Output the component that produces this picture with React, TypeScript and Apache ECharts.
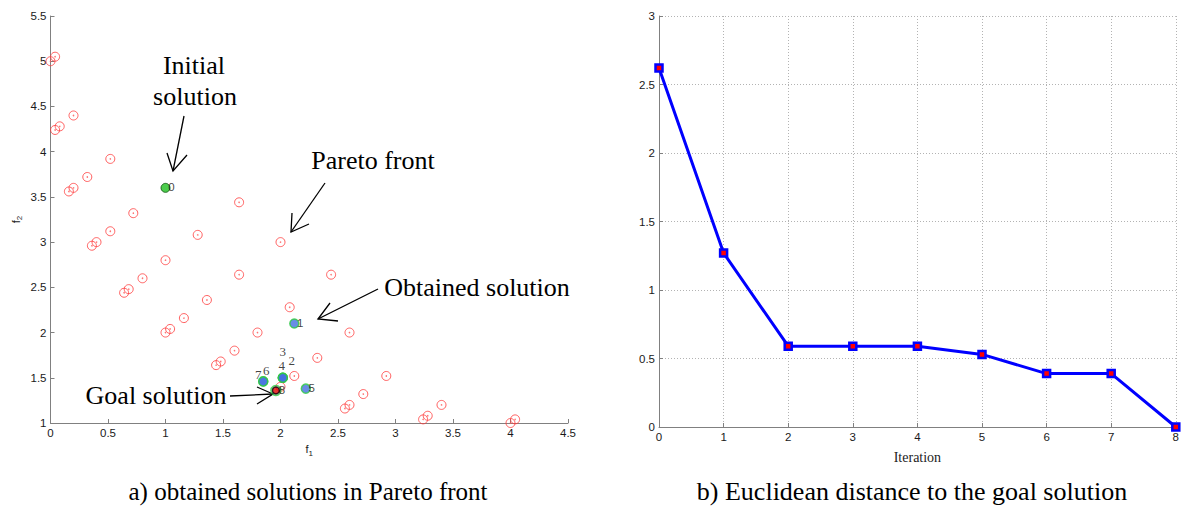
import React, { useEffect, useRef } from "react";
import * as echarts from "echarts";

// ---- Data ----
const paretoF1 = [0, 0.04, 0.2, 0.04, 0.08, 0.52, 0.32, 0.16, 0.2, 1.64, 0.72, 0.52, 1.28, 0.36, 0.4, 2.0, 1.0, 0.8, 0.64, 0.68, 1.64, 1.36, 2.08, 1.16, 1.0, 1.04, 1.8, 1.6, 1.44, 1.48, 2.12, 2.0, 2.44, 2.6, 2.32, 2.92, 2.72, 2.56, 2.6, 3.4, 3.24, 3.28, 4.0, 4.04];
const paretoF2 = [5.0, 5.05, 4.4, 4.24, 4.28, 3.92, 3.72, 3.56, 3.6, 3.44, 3.32, 3.12, 3.08, 2.96, 3.0, 3.0, 2.8, 2.6, 2.44, 2.48, 2.64, 2.36, 2.28, 2.16, 2.0, 2.04, 2.0, 1.8, 1.64, 1.68, 1.52, 1.4, 2.64, 2.0, 1.72, 1.52, 1.32, 1.16, 1.2, 1.2, 1.04, 1.08, 1.0, 1.04];

const iterations = [0, 1, 2, 3, 4, 5, 6, 7, 8];
const solutionF1 = [1.0, 2.12, 2.02, 2.02, 2.02, 2.22, 1.85, 1.85, 1.96];
const solutionF2 = [3.6, 2.1, 1.5, 1.5, 1.5, 1.38, 1.46, 1.46, 1.36];
const goalF1 = [1.96];
const goalF2 = [1.36];

const distances = [2.62, 1.27, 0.59, 0.59, 0.59, 0.53, 0.39, 0.39, 0.0];

const SERIF = "'Liberation Serif', 'Times New Roman', serif";
const SANS = "'Liberation Sans', Arial, sans-serif";
const AXIS_COLOR = "#808080";

// label placement for each iteration point (offsets relative to the point)
const labelStyle: Record<number, { offset: number[]; font: string; size: number }> = {
  0: { offset: [6, -1], font: SANS, size: 11.5 },
  1: { offset: [6, -1], font: SANS, size: 11.5 },
  2: { offset: [9, -17], font: SERIF, size: 13 },
  3: { offset: [0, -26], font: SERIF, size: 13 },
  4: { offset: [-1, -12], font: SERIF, size: 13 },
  5: { offset: [6, -1], font: SANS, size: 11.5 },
  6: { offset: [3, -11], font: SERIF, size: 13 },
  7: { offset: [-5, -7], font: SERIF, size: 13 },
  8: { offset: [6, 0], font: SANS, size: 11.5 },
};

export default function App() {
  const ref = useRef<HTMLDivElement>(null);

  useEffect(() => {
    if (!ref.current) return;
    const chart = echarts.init(ref.current, null, { renderer: "svg" });

    const axisCommon = {
      axisLine: { show: true, lineStyle: { color: AXIS_COLOR, width: 1 } },
      axisTick: { show: true, inside: true, length: 4, lineStyle: { color: AXIS_COLOR } },
      axisLabel: { color: "#1a1a1a", fontFamily: SANS, fontSize: 11.5, margin: 4 },
    };

    const paretoData = paretoF1.map((x, i) => [x, paretoF2[i]]);
    const solutionData = iterations.map((it, i) => {
      const ls = labelStyle[it];
      let itemStyle: any = undefined;
      let symbolSize = 9;
      if (it === 0) itemStyle = { color: "#1fbf1f", borderColor: "#0b4d0b", borderWidth: 1 };
      if (it === 8) {
        itemStyle = { color: "rgba(0,0,0,0)", borderColor: "#2ecc40", borderWidth: 1.5 };
        symbolSize = 10;
      }
      return {
        value: [solutionF1[i], solutionF2[i]],
        name: String(it),
        symbolSize,
        itemStyle,
        label: {
          show: true,
          position: "inside",
          offset: ls.offset,
          formatter: String(it),
          fontFamily: ls.font,
          fontSize: ls.size,
          lineHeight: ls.size,
          color: "#111",
        },
      };
    });

    const option: any = {
      animation: false,
      backgroundColor: "#ffffff",
      grid: [
        { left: 50.5, top: 16, width: 517.5, height: 407, containLabel: false },
        { left: 659, top: 16, width: 520, height: 411, containLabel: false },
      ],
      xAxis: [
        {
          gridIndex: 0,
          type: "value",
          min: 0,
          max: 4.5,
          interval: 0.5,
          splitLine: { show: false },
          ...axisCommon,
          name: "{a|f}{s|1}",
          nameLocation: "middle",
          nameGap: 18,
          nameTextStyle: {
            rich: {
              a: { fontFamily: SANS, fontSize: 11, color: "#1a1a1a" },
              s: { fontFamily: SANS, fontSize: 8, color: "#1a1a1a", padding: [8, 0, 0, 0] },
            },
          },
        },
        {
          gridIndex: 1,
          type: "value",
          min: 0,
          max: 8,
          interval: 1,
          ...axisCommon,
          splitLine: { show: true, lineStyle: { color: "#b3b3b3", type: [1, 2], width: 1 } },
          name: "Iteration",
          nameLocation: "middle",
          nameGap: 23,
          nameTextStyle: { fontFamily: SERIF, fontSize: 14, color: "#222" },
        },
      ],
      yAxis: [
        {
          gridIndex: 0,
          type: "value",
          min: 1,
          max: 5.5,
          interval: 0.5,
          splitLine: { show: false },
          ...axisCommon,
          name: "{a|f}{s|2}",
          nameLocation: "middle",
          nameGap: 27,
          nameRotate: 90,
          nameTextStyle: {
            rich: {
              a: { fontFamily: SANS, fontSize: 11, color: "#1a1a1a" },
              s: { fontFamily: SANS, fontSize: 8, color: "#1a1a1a", padding: [8, 0, 0, 0] },
            },
          },
        },
        {
          gridIndex: 1,
          type: "value",
          min: 0,
          max: 3,
          interval: 0.5,
          ...axisCommon,
          splitLine: { show: true, lineStyle: { color: "#b3b3b3", type: [1, 2], width: 1 } },
        },
      ],
      series: [
        {
          name: "Pareto front",
          type: "scatter",
          xAxisIndex: 0,
          yAxisIndex: 0,
          data: paretoData,
          symbol: "circle",
          symbolSize: 9,
          itemStyle: { color: "rgba(255,255,255,0)", borderColor: "#ff3b3b", borderWidth: 1 },
          z: 2,
        },
        {
          name: "Pareto front centre",
          type: "scatter",
          xAxisIndex: 0,
          yAxisIndex: 0,
          data: paretoData,
          symbol: "circle",
          symbolSize: 1.6,
          itemStyle: { color: "#ff5050" },
          z: 2,
        },
        {
          name: "Obtained solutions",
          type: "scatter",
          xAxisIndex: 0,
          yAxisIndex: 0,
          data: solutionData,
          symbol: "circle",
          itemStyle: { color: "#4470e0", borderColor: "#2ecc40", borderWidth: 1.5 },
          z: 3,
        },
        {
          name: "Goal",
          type: "scatter",
          xAxisIndex: 0,
          yAxisIndex: 0,
          data: goalF1.map((x, i) => [x, goalF2[i]]),
          symbol: "circle",
          symbolSize: 7,
          itemStyle: { color: "#e00000", borderColor: "#000000", borderWidth: 1.5 },
          z: 4,
        },
        {
          name: "Distance",
          type: "line",
          xAxisIndex: 1,
          yAxisIndex: 1,
          data: iterations.map((it, i) => [it, distances[i]]),
          symbol: "rect",
          symbolSize: 7,
          showSymbol: true,
          lineStyle: { color: "#0000ff", width: 3 },
          itemStyle: { color: "#ff0000", borderColor: "#0000ff", borderWidth: 2.5 },
          clip: false,
          z: 3,
        },
      ],
      graphic: [
        { type: "text", x: 194, y: 65, style: { text: "Initial", font: `26px ${SERIF}`, fill: "#000", align: "center", verticalAlign: "middle" } },
        { type: "text", x: 195, y: 96, style: { text: "solution", font: `26px ${SERIF}`, fill: "#000", align: "center", verticalAlign: "middle" } },
        { type: "text", x: 373, y: 160, style: { text: "Pareto front", font: `26px ${SERIF}`, fill: "#000", align: "center", verticalAlign: "middle" } },
        { type: "text", x: 477, y: 287, style: { text: "Obtained solution", font: `26px ${SERIF}`, fill: "#000", align: "center", verticalAlign: "middle" } },
        { type: "text", x: 156, y: 395, style: { text: "Goal solution", font: `26px ${SERIF}`, fill: "#000", align: "center", verticalAlign: "middle" } },
        { type: "text", x: 308, y: 491, style: { text: "a) obtained solutions in Pareto front", font: `25px ${SERIF}`, fill: "#000", align: "center", verticalAlign: "middle" } },
        { type: "text", x: 912, y: 491, style: { text: "b) Euclidean distance to the goal solution", font: `26px ${SERIF}`, fill: "#000", align: "center", verticalAlign: "middle" } },
        // arrows
        { type: "line", shape: { x1: 184, y1: 116, x2: 173, y2: 171 }, style: { stroke: "#000", lineWidth: 1.3 } },
        { type: "polyline", shape: { points: [[167, 153], [173, 171], [187, 155]] }, style: { stroke: "#000", lineWidth: 1.3, fill: null } },
        { type: "line", shape: { x1: 325, y1: 183, x2: 291, y2: 232 }, style: { stroke: "#000", lineWidth: 1.3 } },
        { type: "polyline", shape: { points: [[292, 213], [291, 232], [309, 224]] }, style: { stroke: "#000", lineWidth: 1.3, fill: null } },
        { type: "line", shape: { x1: 378, y1: 289, x2: 318, y2: 319 }, style: { stroke: "#000", lineWidth: 1.3 } },
        { type: "polyline", shape: { points: [[330, 303], [318, 319], [338, 321]] }, style: { stroke: "#000", lineWidth: 1.3, fill: null } },
        { type: "line", shape: { x1: 230, y1: 396, x2: 273, y2: 394 }, style: { stroke: "#000", lineWidth: 1.3 } },
        { type: "polyline", shape: { points: [[257, 387], [273, 394], [257, 404]] }, style: { stroke: "#000", lineWidth: 1.3, fill: null } },
      ],
    };

    chart.setOption(option);
    return () => chart.dispose();
  }, []);

  return (
    <div
      ref={ref}
      style={{ position: "absolute", left: 0, top: 0, width: 1182, height: 507, background: "#fff" }}
    />
  );
}
